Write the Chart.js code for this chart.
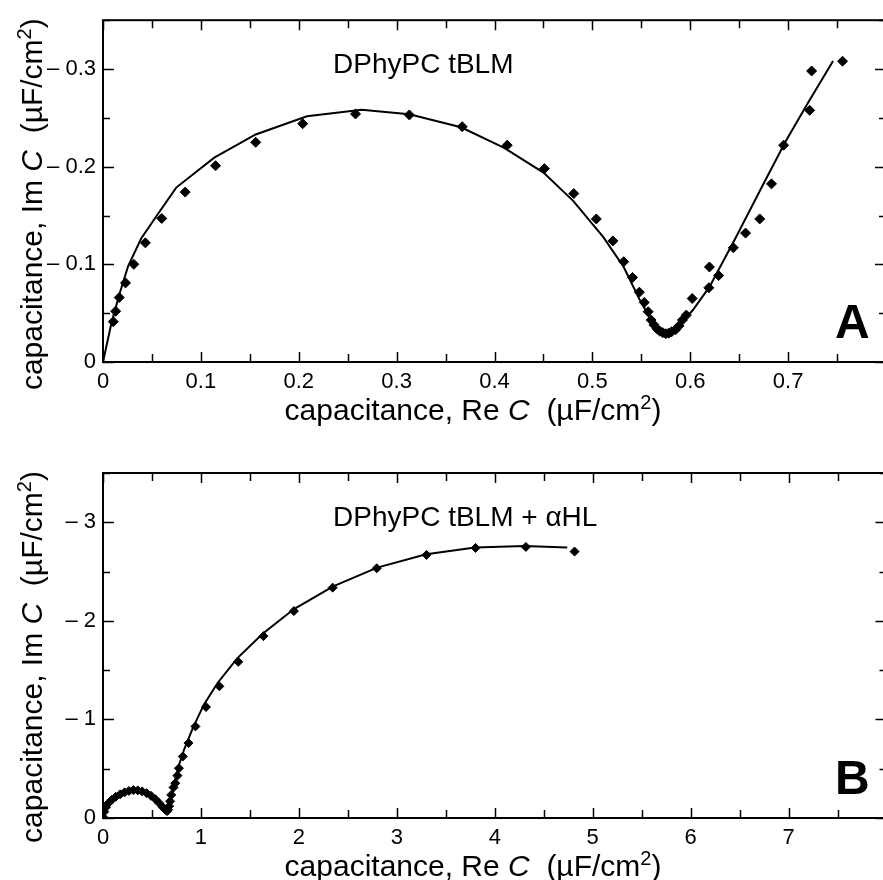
<!DOCTYPE html>
<html>
<head>
<meta charset="utf-8">
<script src="https://cdn.jsdelivr.net/npm/chart.js@4.4.1/dist/chart.umd.min.js"></script>
<style>
  html, body { margin: 0; padding: 0; background: #fff; overflow: hidden; }
  canvas { display: block; }
</style>
</head>
<body>
<canvas id="panelA" width="892" height="440"></canvas>
<canvas id="panelB" width="892" height="440"></canvas>
<script>
// DPhyPC tBLM: measured complex capacitance (uF/cm2)
var reA = [0.0105, 0.0129, 0.0166, 0.023, 0.0315, 0.0433, 0.060, 0.084, 0.115, 0.156,
  0.204, 0.258, 0.313, 0.367, 0.413, 0.451, 0.481, 0.504, 0.521, 0.532,
  0.541, 0.548, 0.553, 0.557, 0.560, 0.563, 0.566, 0.569, 0.572, 0.575,
  0.578, 0.581, 0.585, 0.5885, 0.592, 0.596, 0.602, 0.619, 0.6196, 0.629,
  0.644, 0.6565, 0.671, 0.683, 0.6954, 0.722, 0.724, 0.7556];
var imA = [-0.0413, -0.052, -0.066, -0.081, -0.100, -0.122, -0.147, -0.174, -0.201, -0.225,
  -0.244, -0.254, -0.253, -0.241, -0.222, -0.198, -0.1725, -0.1465, -0.124, -0.1027,
  -0.0865, -0.0715, -0.061, -0.0515, -0.043, -0.038, -0.034, -0.0315, -0.030, -0.029,
  -0.0295, -0.031, -0.033, -0.037, -0.043, -0.048, -0.065, -0.076, -0.0973, -0.0885,
  -0.117, -0.132, -0.1465, -0.1824, -0.222, -0.2577, -0.298, -0.308];

// DPhyPC tBLM: model fit
var fitReA = [0, 0.0088, 0.0173, 0.0257, 0.039, 0.0561, 0.0748, 0.1137, 0.156, 0.2084,
  0.2643, 0.313, 0.3658, 0.4099, 0.450, 0.4804, 0.5112, 0.532, 0.5485, 0.562,
  0.570, 0.5756, 0.5858, 0.6027, 0.6196, 0.6467, 0.6738, 0.6975, 0.7211, 0.7459];
var fitImA = [0, -0.0407, -0.0712, -0.0983, -0.1264, -0.1516, -0.1786, -0.2092, -0.233, -0.2516,
  -0.2584, -0.2536, -0.2404, -0.2193, -0.1939, -0.165, -0.1278, -0.0973, -0.0634, -0.0397,
  -0.033, -0.0311, -0.0346, -0.0532, -0.0769, -0.1278, -0.1804, -0.2261, -0.2668, -0.3082];

// DPhyPC tBLM + alpha-hemolysin: measured
var reB = [0.003, 0.013, 0.03, 0.055, 0.09, 0.13, 0.175, 0.22, 0.265, 0.31,
  0.355, 0.40, 0.445, 0.49, 0.535, 0.575, 0.61, 0.64, 0.655, 0.665,
  0.675, 0.685, 0.697, 0.72, 0.738, 0.76, 0.775, 0.815, 0.873, 0.944,
  1.052, 1.188, 1.381, 1.638, 1.949, 2.345, 2.795, 3.303, 3.804, 4.318, 4.815];
var imB = [-0.007, -0.064, -0.11, -0.15, -0.185, -0.215, -0.24, -0.26, -0.275, -0.283,
  -0.28, -0.27, -0.252, -0.225, -0.19, -0.15, -0.11, -0.08, -0.07, -0.085,
  -0.12, -0.17, -0.234, -0.31, -0.353, -0.43, -0.505, -0.624, -0.76, -0.929,
  -1.126, -1.336, -1.584, -1.845, -2.099, -2.337, -2.533, -2.669, -2.74, -2.75, -2.703];

// DPhyPC tBLM + alpha-hemolysin: model fit
var fitReB = [0, 0.01, 0.04, 0.08, 0.13, 0.19, 0.25, 0.31, 0.37, 0.43,
  0.49, 0.55, 0.60, 0.64, 0.66, 0.68, 0.70, 0.73, 0.77, 0.83,
  0.92, 1.03, 1.17, 1.37, 1.63, 1.95, 2.35, 2.80, 3.30, 3.80, 4.30, 4.74];
var fitImB = [0, -0.06, -0.12, -0.17, -0.215, -0.25, -0.272, -0.283, -0.278, -0.255,
  -0.22, -0.17, -0.12, -0.07, -0.05, -0.12, -0.22, -0.36, -0.52, -0.70,
  -0.92, -1.15, -1.37, -1.62, -1.87, -2.12, -2.35, -2.54, -2.675, -2.745, -2.76, -2.745];

// tick labels
var xTicksA = [0, 0.1, 0.2, 0.3, 0.4, 0.5, 0.6, 0.7];
var yTicksA = [0, -0.1, -0.2, -0.3];
var xTicksB = [0, 1, 2, 3, 4, 5, 6, 7];
var yTicksB = [0, -1, -2, -3];

var FONT = "'Liberation Sans', Arial, Helvetica, sans-serif";

function toPoints(xs, ys) {
  return xs.map(function (x, i) { return { x: x, y: ys[i] }; });
}

// draws a run of text pieces centred on (0,0); style: n = normal, i = italic, s = superscript
function drawRich(ctx, parts, size) {
  function fontFor(st) {
    if (st === 'i') return 'italic ' + size + 'px ' + FONT;
    if (st === 's') return Math.round(size * 0.68) + 'px ' + FONT;
    return size + 'px ' + FONT;
  }
  var total = 0;
  parts.forEach(function (p) { ctx.font = fontFor(p[1]); total += ctx.measureText(p[0]).width; });
  var x = -total / 2;
  ctx.textAlign = 'left';
  ctx.textBaseline = 'alphabetic';
  parts.forEach(function (p) {
    ctx.font = fontFor(p[1]);
    ctx.fillText(p[0], x, p[1] === 's' ? -size * 0.36 : 0);
    x += ctx.measureText(p[0]).width;
  });
}

// frame with inward ticks, axis titles, panel label and letter
function decor(cfg) {
  return {
    id: 'decor',
    afterDraw: function (chart) {
      var ctx = chart.ctx, a = chart.chartArea;
      var xs = chart.scales.x, ys = chart.scales.y;
      ctx.save();
      ctx.strokeStyle = '#000';
      ctx.fillStyle = '#000';

      ctx.lineWidth = 1.5;
      ctx.beginPath();
      var n = Math.round((xs.max - xs.min) / cfg.xMinor), i, v, px, len;
      for (i = 0; i <= n; i++) {
        v = xs.min + i * cfg.xMinor;
        px = Math.round(xs.getPixelForValue(v)) + 0.5;
        len = Math.abs(v / cfg.xMajor - Math.round(v / cfg.xMajor)) < 1e-6 ? 10 : 8;
        ctx.moveTo(px, a.bottom); ctx.lineTo(px, a.bottom - len);
        ctx.moveTo(px, a.top); ctx.lineTo(px, a.top + len);
      }
      n = Math.round((ys.max - ys.min) / cfg.yMinor);
      for (i = 0; i <= n; i++) {
        v = ys.min + i * cfg.yMinor;
        px = Math.round(ys.getPixelForValue(v)) + 0.5;
        len = Math.abs(v / cfg.yMajor - Math.round(v / cfg.yMajor)) < 1e-6 ? 11 : 7;
        ctx.moveTo(a.left, px); ctx.lineTo(a.left + len, px);
        ctx.moveTo(a.right, px); ctx.lineTo(a.right - len, px);
      }
      ctx.stroke();

      ctx.lineWidth = 2;
      ctx.strokeRect(a.left, a.top, a.right - a.left, a.bottom - a.top);

      // x axis title
      ctx.save();
      ctx.translate(a.left + 370, a.bottom + 58);
      drawRich(ctx, [['capacitance, Re ', 'n'], ['C', 'i'], ['  (\u00b5F/cm', 'n'], ['2', 's'], [')', 'n']], 30);
      ctx.restore();

      // y axis title
      ctx.save();
      ctx.translate(42, a.top + 184);
      ctx.rotate(-Math.PI / 2);
      drawRich(ctx, [['capacitance, Im ', 'n'], ['C', 'i'], ['  (\u00b5F/cm', 'n'], ['2', 's'], [')', 'n']], 30);
      ctx.restore();

      // sample label
      ctx.font = '28px ' + FONT;
      ctx.textAlign = 'left';
      ctx.textBaseline = 'alphabetic';
      ctx.fillText(cfg.label, a.left + 230, a.top + 53);

      // panel letter
      ctx.font = 'bold 48px ' + FONT;
      ctx.fillText(cfg.letter, a.left + 732, a.bottom - 24);
      ctx.restore();
    }
  };
}

function makePanel(id, o) {
  var ctx = document.getElementById(id).getContext('2d');
  return new Chart(ctx, {
    type: 'scatter',
    data: {
      datasets: [
        {
          label: 'data',
          data: toPoints(o.re, o.im),
          pointStyle: 'rectRot',
          pointRadius: o.markR,
          backgroundColor: '#000',
          borderColor: '#000',
          borderWidth: 1,
          showLine: false
        },
        {
          label: 'fit',
          data: toPoints(o.fitRe, o.fitIm),
          showLine: true,
          pointRadius: 0,
          borderColor: '#000',
          borderWidth: 2,
          tension: 0,
          fill: false
        }
      ]
    },
    options: {
      responsive: false,
      animation: false,
      layout: { padding: { top: o.padTop, right: 1, left: 0, bottom: 0 } },
      plugins: { legend: { display: false }, tooltip: { enabled: false } },
      scales: {
        x: {
          type: 'linear',
          min: 0,
          max: o.xMax,
          grid: { display: false, drawTicks: false },
          border: { display: false },
          afterBuildTicks: function (s) { s.ticks = o.xTicks.map(function (v) { return { value: v }; }); },
          afterFit: function (s) { s.height = o.xHeight; },
          ticks: {
            color: '#000',
            padding: 7,
            maxRotation: 0,
            autoSkip: false,
            font: { family: FONT, size: 22 },
            callback: function (v) { return v === 0 ? '0' : v.toFixed(o.xDigits); }
          }
        },
        y: {
          type: 'linear',
          min: o.yMin,
          max: 0,
          reverse: true,
          grid: { display: false, drawTicks: false },
          border: { display: false },
          afterBuildTicks: function (s) { s.ticks = o.yTicks.map(function (v) { return { value: v }; }); },
          afterFit: function (s) { s.width = 103; },
          ticks: {
            color: '#000',
            padding: 7,
            autoSkip: false,
            font: { family: FONT, size: 22 },
            callback: function (v) { return v === 0 ? '0' : '\u2013 ' + Math.abs(v).toFixed(o.yDigits); }
          }
        }
      }
    },
    plugins: [decor(o)]
  });
}

makePanel('panelA', {
  re: reA, im: imA, fitRe: fitReA, fitIm: fitImA,
  xTicks: xTicksA, yTicks: yTicksA, xMax: 0.8, yMin: -0.35,
  xDigits: 1, yDigits: 1, xMinor: 0.05, xMajor: 0.1, yMinor: 0.05, yMajor: 0.1,
  padTop: 17, xHeight: 78, markR: 5,
  label: 'DPhyPC tBLM', letter: 'A'
});

makePanel('panelB', {
  re: reB, im: imB, fitRe: fitReB, fitIm: fitImB,
  xTicks: xTicksB, yTicks: yTicksB, xMax: 8, yMin: -3.5,
  xDigits: 0, yDigits: 0, xMinor: 0.5, xMajor: 1, yMinor: 0.5, yMajor: 1,
  padTop: 33, xHeight: 62, markR: 4.5,
  label: 'DPhyPC tBLM + \u03b1HL', letter: 'B'
});
</script>
</body>
</html>
